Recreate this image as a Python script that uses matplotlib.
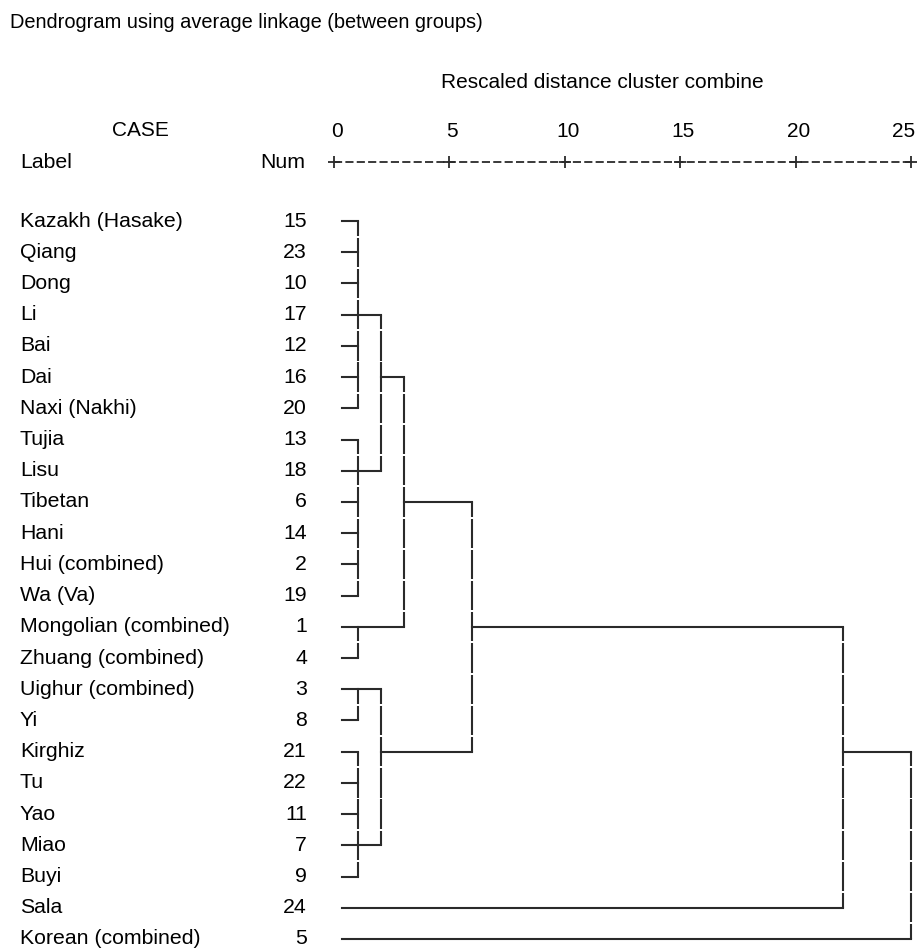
import numpy as np
import matplotlib.pyplot as plt
from matplotlib.transforms import blended_transform_factory

plt.rcParams['font.family'] = ['Liberation Sans', 'DejaVu Sans']

labels = ["Kazakh (Hasake)", "Qiang", "Dong", "Li", "Bai", "Dai", "Naxi (Nakhi)",
          "Tujia", "Lisu", "Tibetan", "Hani", "Hui (combined)", "Wa (Va)",
          "Mongolian (combined)", "Zhuang (combined)", "Uighur (combined)", "Yi",
          "Kirghiz", "Tu", "Yao", "Miao", "Buyi", "Sala", "Korean (combined)"]
case_nums = [15, 23, 10, 17, 12, 16, 20, 13, 18, 6, 14, 2, 19, 1, 4, 3, 8,
             21, 22, 11, 7, 9, 24, 5]

# (children, rescaled distance, case number on whose row the cluster leaves)
clusters = [
    ([15, 23, 10, 17, 12, 16, 20], 1.05, 17),
    ([13, 18, 6, 14, 2, 19], 1.05, 18),
    ([1, 4], 1.05, 1),
    ([3, 8], 1.05, 3),
    ([21, 22, 11, 7, 9], 1.05, 7),
    (["c0", "c1"], 2.05, 16),
    (["c5", "c2"], 3.05, 6),
    (["c3", "c4"], 2.05, 21),
    (["c6", "c7"], 6.0, 1),
    (["c8", 24], 22.05, 21),
    (["c9", 5], 25.0, None),
]

ticks = [0, 5, 10, 15, 20, 25]

W, H = 918, 949
fig = plt.figure(figsize=(W / 100, H / 100), dpi=100)
x0, x25 = 334, 911
r1, r24 = 221, 939
ax = fig.add_axes([x0 / W, 1 - r24 / H, (x25 - x0) / W, (r24 - r1) / H])
ax.set_xlim(0, 25)
ax.set_ylim(24, 1)
ax.axis('off')

row_px = (r24 - r1) / 23
unit_px = (x25 - x0) / 25
def px_to_row(py):
    return 1 + (py - r1) / row_px

col = '#2a2a2a'
lw = 1.5
leaf_start = 0.35
gap = 0.03

row_of = {c: i + 1 for i, c in enumerate(case_nums)}

def vline(x, a, b):
    # drawn in pieces, with small breaks between rows like the text output
    edges = [a] + [k + 0.5 for k in range(a, b)] + [b]
    for i in range(len(edges) - 1):
        lo = edges[i] + (gap if i > 0 else 0)
        hi = edges[i + 1] - (gap if i < len(edges) - 2 else 0)
        ax.plot([x, x], [lo, hi], color=col, lw=lw, solid_capstyle='butt',
                clip_on=False)

anchor = {}
for c in case_nums:
    anchor[c] = (row_of[c], leaf_start)

for i, (children, h, exit_case) in enumerate(clusters):
    rows = []
    for ch in children:
        r, xs = anchor[ch]
        ax.plot([xs, h], [r, r], color=col, lw=lw, solid_capstyle='projecting',
                clip_on=False)
        rows.append(r)
    vline(h, min(rows), max(rows))
    if exit_case is not None:
        anchor["c%d" % i] = (row_of[exit_case], h)

# ruler
yr = px_to_row(162)
ax.plot([0, 25], [yr, yr], color=col, lw=1.3, dashes=(4.5, 1.8), clip_on=False)
ax.plot(ticks, [yr] * len(ticks), ls='none', marker='+', ms=9, mew=1.3,
        color=col, clip_on=False)
for t in ticks:
    if t == ticks[-1]:
        ax.text(t + 4 / unit_px, px_to_row(131), str(t), ha='right', va='center',
                fontsize=15)
    else:
        ax.text(t + 3 / unit_px, px_to_row(131), str(t), ha='center', va='center',
                fontsize=15)

fs = 15.3
tr = blended_transform_factory(fig.transFigure, ax.transData)
for i, (lab, n) in enumerate(zip(labels, case_nums)):
    ax.text(20 / W, i + 1, lab, transform=tr, ha='left', va='center', fontsize=fs)
    ax.text(307 / W, i + 1, str(n), transform=tr, ha='right', va='center', fontsize=fs)

fig.text(10 / W, 1 - 22 / H, "Dendrogram using average linkage (between groups)",
         ha='left', va='center', fontsize=14.4)
fig.text(602 / W, 1 - 83 / H, "Rescaled distance cluster combine",
         ha='center', va='center', fontsize=15)
fig.text(140 / W, 1 - 131 / H, "CASE", ha='center', va='center', fontsize=15)
fig.text(20 / W, 1 - 163 / H, "Label", ha='left', va='center', fontsize=fs)
fig.text(305 / W, 1 - 163 / H, "Num", ha='right', va='center', fontsize=fs)

fig.savefig("out.png", dpi=100, facecolor='white')
